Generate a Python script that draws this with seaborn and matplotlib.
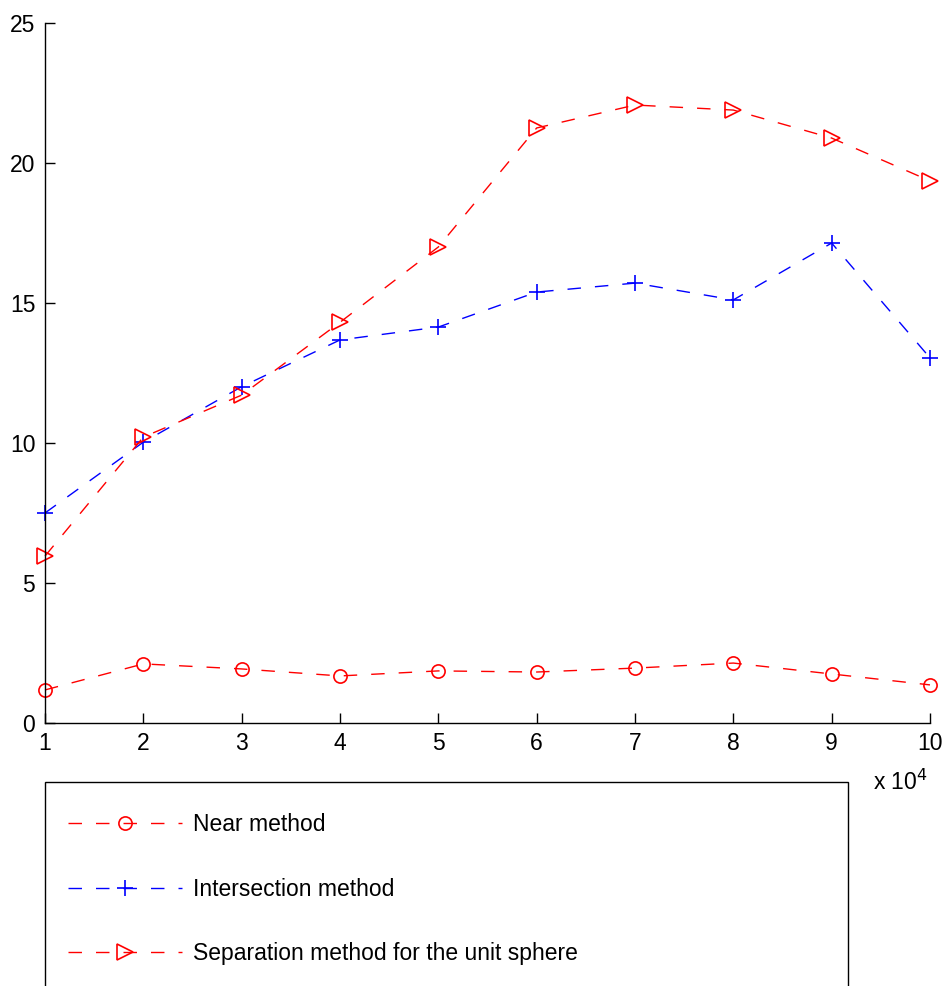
import matplotlib
matplotlib.use("Agg")
import matplotlib.pyplot as plt
import seaborn as sns
import numpy as np
from matplotlib.ticker import FuncFormatter
from matplotlib.patches import Rectangle

sns.set_theme(style="white")
plt.rcParams['font.family'] = ['Liberation Sans', 'DejaVu Sans']
plt.rcParams['text.color'] = 'black'

x_vals = [10000, 20000, 30000, 40000, 50000, 60000, 70000, 80000, 90000, 100000]
near = [1.17, 2.10, 1.92, 1.67, 1.85, 1.81, 1.95, 2.13, 1.74, 1.35]
intersection = [7.49, 10.02, 12.0, 13.67, 14.13, 15.38, 15.70, 15.10, 17.13, 13.03]
separation = [5.95, 10.20, 11.70, 14.30, 16.99, 21.24, 22.06, 21.88, 20.88, 19.35]
labels = ["Near method", "Intersection method", "Separation method for the unit sphere"]
yticks = [0, 5, 10, 15, 20, 25]

W, H = 947, 986
fig = plt.figure(figsize=(W / 100, H / 100), dpi=100)
ax = fig.add_axes([45 / W, 1 - 722.7 / H, (930 - 45) / W, (722.7 - 22.7) / H])

dash = (0, (9.7, 10.1))
fs = 16.5
series = [(near, 'red', 'o', 9.5), (intersection, 'blue', '+', 11), (separation, 'red', '>', 11)]
for (vals, col, mk, ms), lab in zip(series, labels):
    sns.lineplot(x=x_vals, y=vals, ax=ax, color=col, marker=mk, markersize=ms,
                 markerfacecolor='none', markeredgecolor=col, markeredgewidth=1.2,
                 linestyle=dash, linewidth=1.0, label=lab, legend=False, clip_on=False)

ax.set_xlim(10000, 100000)
ax.set_ylim(0, 25)
ax.set_xticks(x_vals)
ax.set_yticks(yticks)
ax.xaxis.set_major_formatter(FuncFormatter(lambda v, p: f"{v/10000:g}"))
for s in ['top', 'right']:
    ax.spines[s].set_visible(False)
for s in ['left', 'bottom']:
    ax.spines[s].set_color('black')
    ax.spines[s].set_linewidth(1.0)
ax.tick_params(direction='in', length=7, width=1.0, colors='black', labelsize=fs, pad=7,
               left=True, bottom=True)
ax.grid(False)

fig.text(928 / W, 1 - 782 / H, r"x 10$^4$", ha='right', va='center', fontsize=fs,
         color='black')

# legend frame (extends below the figure edge, as in the reference)
fig.patches.append(Rectangle((45 / W, -0.05), (848 - 45) / W, (1 - 782 / H) + 0.05,
                             transform=fig.transFigure, fill=False, edgecolor='black',
                             linewidth=1.0, figure=fig))

handles = ax.get_lines()
leg = fig.legend(handles, labels, loc='upper left',
                 bbox_to_anchor=(68 / W, 1 - 813 / H),
                 borderaxespad=0, fontsize=fs, frameon=False,
                 handlelength=4.98, handletextpad=0.48, labelspacing=1.82,
                 borderpad=0, numpoints=1, labelcolor='black')

fig.savefig("out.png", dpi=100, facecolor='white')
